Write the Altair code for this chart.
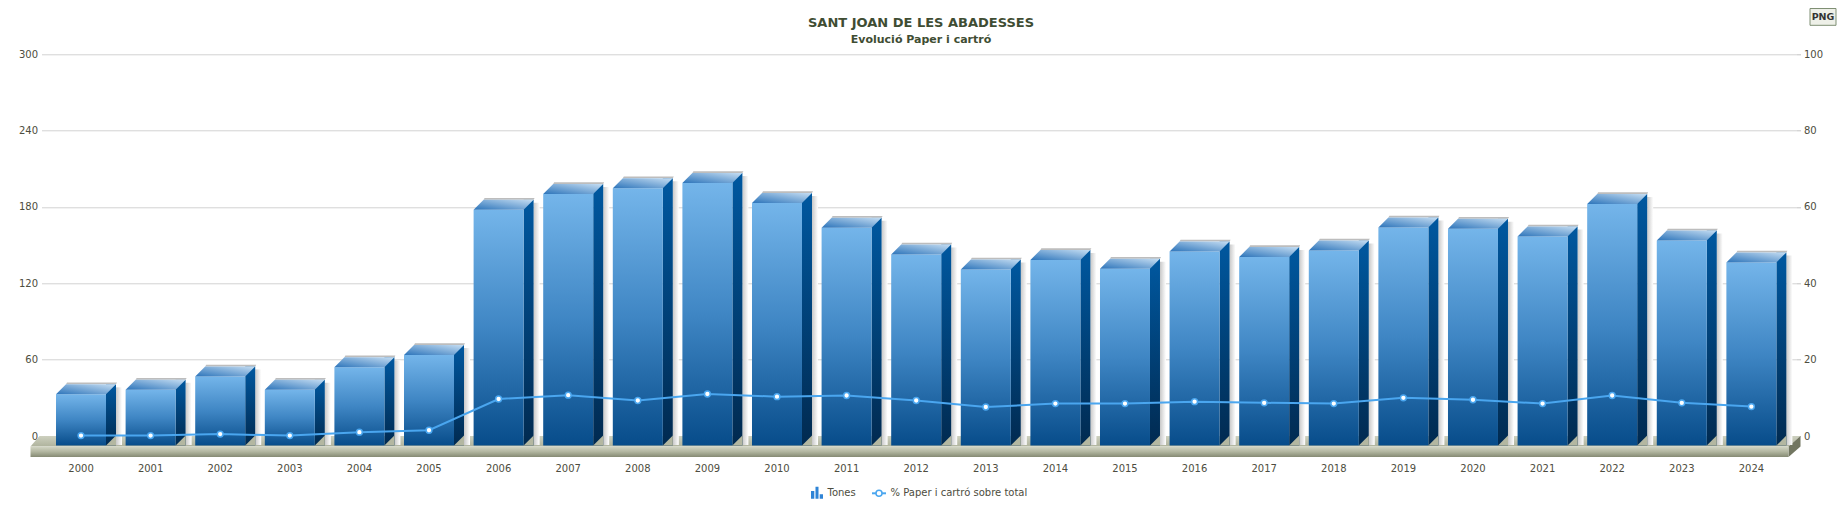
import altair as alt
import pandas as pd

# ---------------- data ----------------
years = ["2000", "2001", "2002", "2003", "2004", "2005", "2006", "2007", "2008",
         "2009", "2010", "2011", "2012", "2013", "2014", "2015", "2016", "2017",
         "2018", "2019", "2020", "2021", "2022", "2023", "2024"]
tones = [40.6, 44.2, 54.7, 44.2, 61.8, 71.5, 185.7, 198.0, 202.5, 206.7, 191.0,
         171.6, 150.6, 138.8, 146.2, 139.3, 152.9, 148.5, 153.7, 171.8, 170.8,
         164.7, 190.2, 161.6, 144.3]
pct = [0.1, 0.1, 0.5, 0.1, 1.0, 1.5, 9.7, 10.7, 9.3, 11.0, 10.3, 10.6, 9.3, 7.6,
       8.5, 8.5, 9.0, 8.7, 8.5, 10.0, 9.5, 8.5, 10.6, 8.7, 7.7]
left_ticks = [0, 60, 120, 180, 240, 300]
right_ticks = [0, 20, 40, 60, 80, 100]
title_text = "SANT JOAN DE LES ABADESSES"
subtitle_text = "Evolució Paper i cartró"
bar_label = "Tones"
line_label = "% Paper i cartró sobre total"

df = pd.DataFrame({"year": years, "tones": tones, "pct": pct})
one = pd.DataFrame({"k": [0]})

# ---------------- styles ----------------
FONT = "DejaVu Sans"
TXT = "#4d4d40"
TITLE_C = "#3f4d33"
LINE_C = "#4aa6ef"
W, H = 1755, 381.7

def grad(stops, x1=0, y1=0, x2=0, y2=1):
    return alt.Gradient(gradient="linear",
                        stops=[alt.GradientStop(color=c, offset=o) for o, c in stops],
                        x1=x1, y1=y1, x2=x2, y2=y2)

front_grad = grad([(0, "#74b5ea"), (0.5, "#3f86c4"), (1, "#074c8a")])
side_grad = grad([(0, "#0058a0"), (1, "#012a50")])
top_grad = grad([(0, "#2c74ba"), (1, "#c6def3")], x1=0, y1=1, x2=1, y2=0)
shadow_grad = grad([(0, "#c8c8c8"), (1, "#ffffff")], x1=0, y1=0, x2=1, y2=0)
floor_top_grad = grad([(0, "#cdd0bf"), (1, "#afb39d")])
floor_front_grad = grad([(0, "#d3d6c5"), (0.5, "#b1b59f"), (1, "#858a73")])

xscale = alt.Scale(paddingInner=0.2816, paddingOuter=0.2488, align=0.419)
x_enc = alt.X("year:N", scale=xscale, sort=years,
              axis=alt.Axis(title=None, labelAngle=0, domain=False, ticks=False,
                            tickSize=0, labelPadding=27, labelFont=FONT,
                            labelFontSize=10, labelColor=TXT, grid=False))

yscale = alt.Scale(domain=[0, 300], nice=False, zero=True)
left_axis = alt.Axis(title=None, values=left_ticks, domain=False, ticks=False,
                     tickSize=0, labelPadding=4, labelFont=FONT, labelFontSize=10,
                     labelColor=TXT, grid=True, gridColor="#d2d2d2", gridWidth=1)
yscale_r = alt.Scale(domain=[0, 100], nice=False, zero=True)
right_axis = alt.Axis(title=None, values=right_ticks, orient="right", domain=False,
                      ticks=True, tickSize=4, tickColor="#c4c4c4", labelPadding=3,
                      labelFont=FONT, labelFontSize=10, labelColor=TXT, grid=False)

y_zero = alt.YDatum(0, scale=yscale, axis=left_axis)
y2_zero = alt.Y2Datum(0)
y_tones = alt.Y("tones:Q", scale=yscale, axis=left_axis)

# ---------------- floor ----------------
floor_top = alt.Chart(one).mark_point(
    shape="M -2 0 L 1759 0 L 1747 10.5 L -11 10.5 Z", size=4, filled=True,
    fill=floor_top_grad, strokeWidth=0, opacity=1
).encode(x=alt.value(0), y=y_zero)

floor_side = alt.Chart(one).mark_point(
    shape="M 1747 10.5 L 1759 0 L 1759 10.5 L 1747 21 Z", size=4, filled=True,
    fill="#727661", strokeWidth=0, opacity=1
).encode(x=alt.value(0), y=y_zero)

floor_front = alt.Chart(one).mark_rect(
    fill=floor_front_grad, yOffset=10.5, y2Offset=21
).encode(x=alt.value(-11), x2=alt.value(1747), y=y_zero, y2=y2_zero)

# ---------------- 3D bars ----------------
bars_base = alt.Chart(df)

shadow = bars_base.mark_bar(fill=shadow_grad, width=6, xOffset=38, yOffset=3,
                            y2Offset=9).encode(x=x_enc, y=y_tones, y2=y2_zero)

side = bars_base.mark_bar(fill=side_grad, width=10, xOffset=30, y2Offset=9.5).encode(
    x=x_enc, y=y_tones, y2=y2_zero)

front = bars_base.mark_bar(fill=front_grad, yOffset=10, y2Offset=9.5).encode(
    x=x_enc, y=y_tones, y2=y2_zero)

top_shadow = bars_base.mark_point(
    shape="M -3 -2 L 7 -2 L 7.2 -2.35 L -2.8 -2.35 Z", size=100, filled=True,
    fill="#bdbdbd", strokeWidth=0, opacity=1, yOffset=10
).encode(x=x_enc, y=y_tones)

top = bars_base.mark_point(
    shape="M -5 0 L 5 0 L 7 -2 L -3 -2 Z", size=100, filled=True, fill=top_grad,
    strokeWidth=0, opacity=1, yOffset=10
).encode(x=x_enc, y=y_tones)

cover = bars_base.mark_point(
    shape="M 5 0 L 7 -2 L 7 0 Z", size=100, filled=True, fill="#b3b7a1",
    strokeWidth=0, opacity=1, yOffset=9.5
).encode(x=x_enc, y=y_zero)

# ---------------- title, legend & button ----------------
title_mark = alt.Chart(one).mark_text(
    align="center", baseline="middle", font=FONT, fontSize=13, fontWeight="bold",
    color=TITLE_C
).encode(x=alt.value(879.5), y=alt.value(-31), text=alt.value(title_text))
subtitle_mark = alt.Chart(one).mark_text(
    align="center", baseline="middle", font=FONT, fontSize=11, fontWeight="bold",
    color=TITLE_C
).encode(x=alt.value(879.5), y=alt.value(-14.5), text=alt.value(subtitle_text))

leg_bar_icon = alt.Chart(one).mark_point(
    shape="M -1 1 L -1 -0.3 L -0.45 -0.3 L -0.45 1 Z M -0.25 1 L -0.25 -1 L 0.25 -1 L 0.25 1 Z M 0.45 1 L 0.45 0.25 L 1 0.25 L 1 1 Z",
    size=144, filled=True, fill="#2f84d6", strokeWidth=0, opacity=1
).encode(x=alt.value(775.5), y=alt.value(438.5))
leg_bar_text = alt.Chart(one).mark_text(
    align="left", baseline="middle", font=FONT, fontSize=10, color=TXT
).encode(x=alt.value(786), y=alt.value(439), text=alt.value(bar_label))
leg_line = alt.Chart(one).mark_rule(color=LINE_C, strokeWidth=2).encode(
    x=alt.value(830.5), x2=alt.value(844.5), y=alt.value(439))
leg_dot = alt.Chart(one).mark_circle(
    fill="white", stroke=LINE_C, strokeWidth=1.5, size=36, opacity=1
).encode(x=alt.value(837.5), y=alt.value(439))
leg_line_text = alt.Chart(one).mark_text(
    align="left", baseline="middle", font=FONT, fontSize=10, color=TXT
).encode(x=alt.value(849), y=alt.value(439), text=alt.value(line_label))

btn_box = alt.Chart(one).mark_rect(fill="#eef0e8", stroke="#7f8f74", strokeWidth=1).encode(
    x=alt.value(1768.5), x2=alt.value(1794.5), y=alt.value(-45.8), y2=alt.value(-29))
btn_text = alt.Chart(one).mark_text(
    align="center", baseline="middle", font=FONT, fontSize=9.5, fontWeight="bold",
    color="#333333"
).encode(x=alt.value(1781.5), y=alt.value(-37.4), text=alt.value("PNG"))

left_group = alt.layer(floor_top, floor_side, floor_front, shadow, side, front,
                       top_shadow, top, cover, title_mark, subtitle_mark,
                       leg_bar_icon, leg_bar_text, leg_line, leg_dot, leg_line_text,
                       btn_box, btn_text)

# ---------------- line ----------------
line = alt.Chart(df).mark_line(color=LINE_C, strokeWidth=2).encode(
    x=x_enc, y=alt.Y("pct:Q", scale=yscale_r, axis=right_axis))
dots = alt.Chart(df).mark_circle(
    fill="white", stroke=LINE_C, strokeWidth=1.5, size=34, opacity=1
).encode(x=x_enc, y=alt.Y("pct:Q", scale=yscale_r, axis=right_axis))
right_group = alt.layer(line, dots)

chart = alt.layer(left_group, right_group).resolve_scale(y="independent").properties(
    width=W, height=H,
    autosize=alt.AutoSizeParams(type="none"),
    padding={"left": 33.5, "top": 46.3, "right": 40, "bottom": 72},
    background="white",
).configure_view(stroke=None)

chart.save("out.html", embed_options={"renderer": "svg", "actions": False})
